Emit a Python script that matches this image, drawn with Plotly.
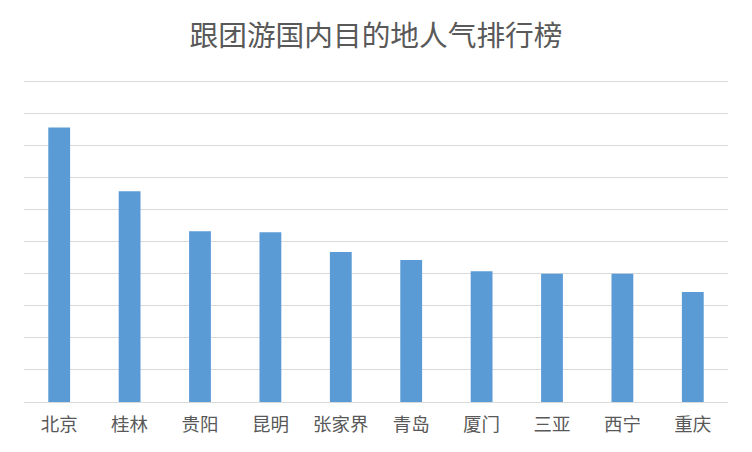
import plotly.graph_objects as go

cities = ['北京', '桂林', '贵阳', '昆明', '张家界', '青岛', '厦门', '三亚', '西宁', '重庆']
popularity = [8.57, 6.58, 5.33, 5.30, 4.68, 4.43, 4.08, 4.00, 4.00, 3.43]

# page body has an 8px margin, so the figure is sized to fit inside the window
fig = go.Figure(go.Bar(
    x=cities, y=popularity,
    marker=dict(color='#5b9bd5', line=dict(width=0)),
    hoverinfo='x+y',
    ))

fig.update_layout(
    width=736, height=436,
    paper_bgcolor='white', plot_bgcolor='white',
    margin=dict(l=16, r=16, t=72, b=42),
    bargap=0.69,
    showlegend=False,
    font=dict(family='Noto Sans CJK SC', color='#595959'),
    title=dict(
        text='跟团游国内目的地人气排行榜',
        x=0.5, xanchor='center', y=0.937, yanchor='middle',
        font=dict(size=28.7, color='#595959'),
        ),
    xaxis=dict(
        automargin=False,
        showgrid=False, showline=False,
        ticks='outside', ticklen=6, tickcolor='rgba(0,0,0,0)',
        tickfont=dict(size=18.5, color='#595959'),
        ),
    yaxis=dict(
        automargin=False,
        range=[0, 10.05], dtick=1,
        showgrid=True, gridcolor='#d9d9d9', gridwidth=1.3,
        zeroline=True, zerolinecolor='#d9d9d9', zerolinewidth=1.3,
        showticklabels=False, ticks='',
        ),
    )

fig.write_html('out.html')
